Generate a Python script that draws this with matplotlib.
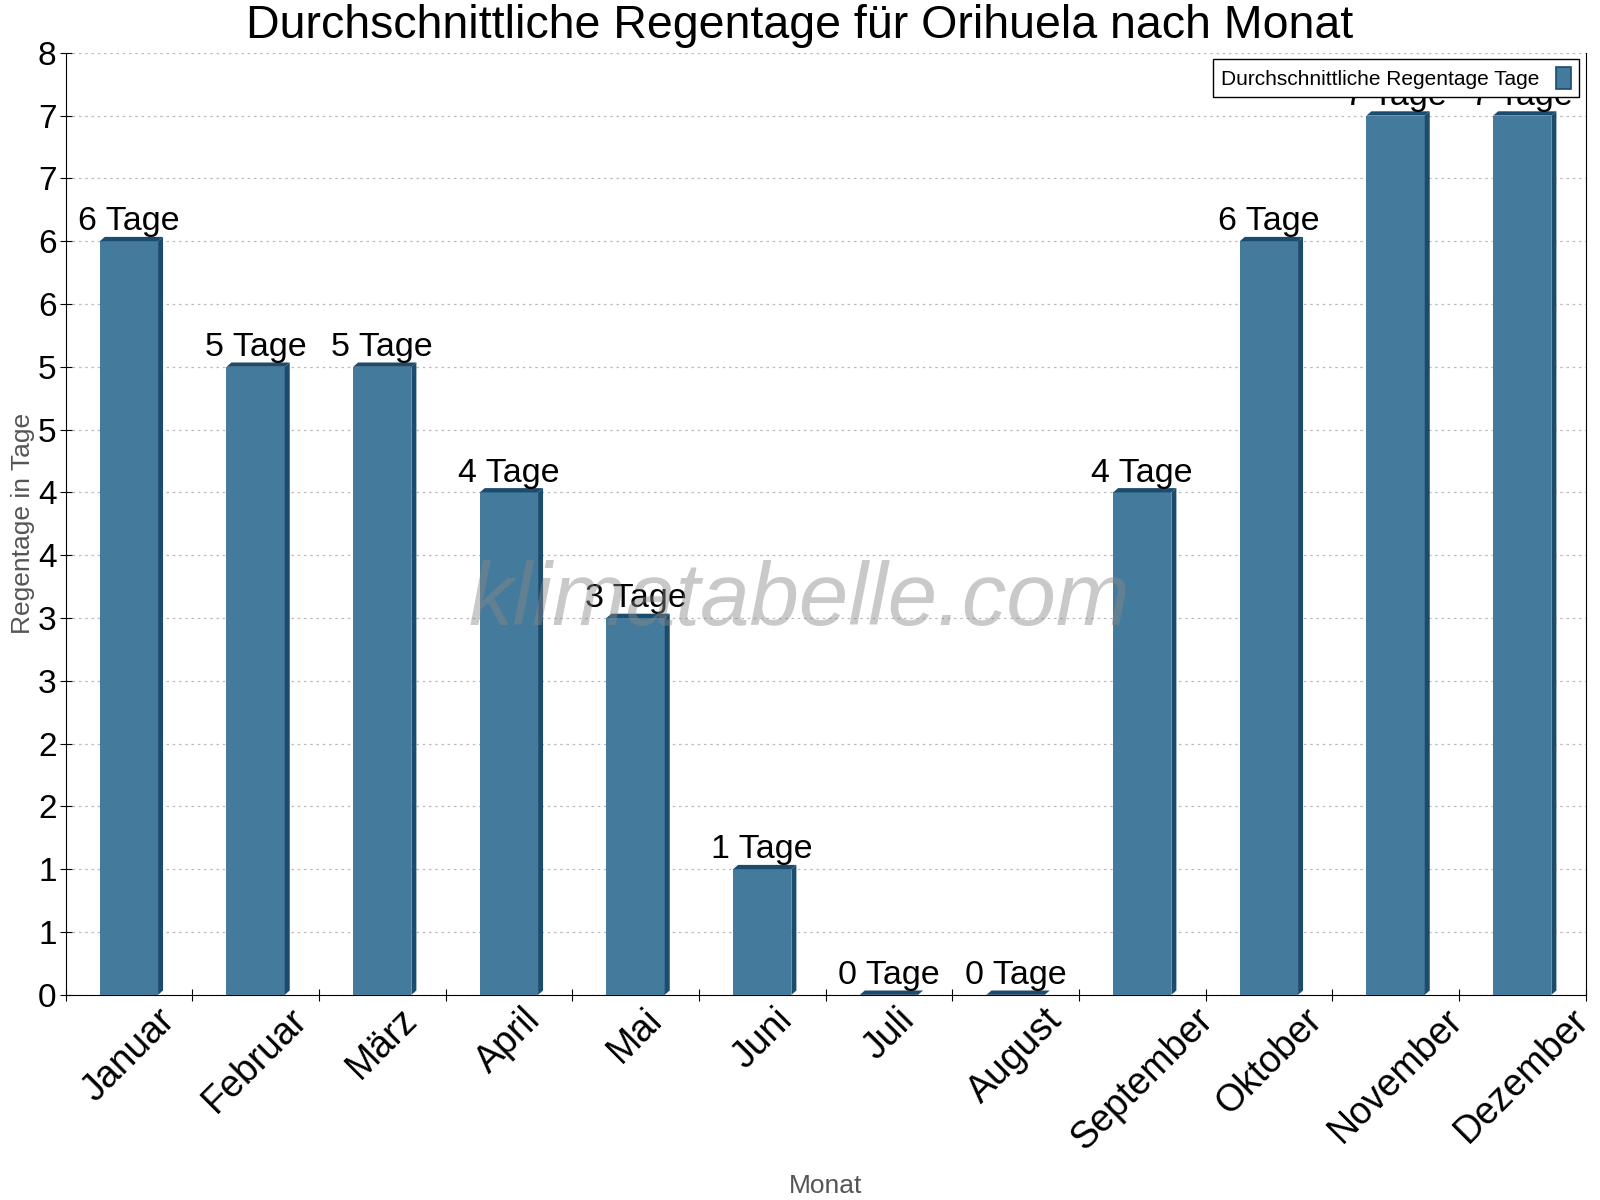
import numpy as np
import matplotlib.pyplot as plt
from matplotlib.patches import Polygon, Patch
from matplotlib.ticker import FuncFormatter, MultipleLocator

plt.rcParams["font.family"] = ["Liberation Sans", "DejaVu Sans"]

months = ["Januar", "Februar", "März", "April", "Mai", "Juni", "Juli",
          "August", "September", "Oktober", "November", "Dezember"]
rain_days = [6, 5, 5, 4, 3, 1, 0, 0, 4, 6, 7, 7]
unit = "Tage"

FRONT = "#447a9c"
DARK = "#1b4b6d"

fig = plt.figure(figsize=(16, 12), dpi=100)
ax = fig.add_axes([0.041, 0.171, 0.95, 0.785])

x = np.arange(len(months))
width = 0.46
ymax = 7.5
ax.set_xlim(-0.5, len(months) - 0.5)
ax.set_ylim(0, ymax)

# fake 3d depth (pixels -> data units)
dx = 5.0 * (len(months) / 1520)
dy = 4.3 * (ymax / 942)

ax.bar(x, rain_days, width=width, color=FRONT, zorder=3)
for xi, v in zip(x, rain_days):
    x0, x1 = xi - width / 2, xi + width / 2
    side = Polygon([(x1, 0), (x1 + dx, dy), (x1 + dx, v + dy), (x1, v)],
                   closed=True, color=DARK, zorder=3, lw=0)
    top = Polygon([(x0, v), (x0 + dx, v + dy), (x1 + dx, v + dy), (x1, v)],
                  closed=True, color=DARK, zorder=3, lw=0)
    ax.add_patch(side)
    ax.add_patch(top)
    ax.text(xi, v + 0.03, f"{v} {unit}", ha="center", va="bottom",
            fontsize=24.5, zorder=5)

# ticks: boundaries as major, labels on minor
ax.set_xticks(np.arange(-0.5, len(months), 1.0))
ax.set_xticklabels([])
ax.set_xticks(x, minor=True)
ax.set_xticklabels(months, minor=True, rotation=45, ha="center", va="top",
                   fontsize=27)
ax.tick_params(axis="x", which="minor", length=0, pad=5)
ax.tick_params(axis="x", which="major", direction="inout", length=9)

ax.yaxis.set_major_locator(MultipleLocator(0.5))
ax.yaxis.set_major_formatter(FuncFormatter(lambda v, p: f"{int(np.floor(v + 0.5))}"))
ax.tick_params(axis="y", direction="inout", length=9, labelsize=24, pad=2)

ax.yaxis.grid(True, linestyle=(0, (2, 3)), color="#bbbbbb", linewidth=0.9, zorder=0)
ax.set_axisbelow(True)
ax.spines["top"].set_visible(False)

ax.set_ylabel("Regentage in Tage", fontsize=19, color="#555555", labelpad=2)
ax.set_xlabel("Monat", fontsize=19, color="#555555")
ax.xaxis.set_label_coords(0.5, -0.19)
fig.suptitle("Durchschnittliche Regentage für Orihuela nach Monat",
             fontsize=33.5, x=0.5, y=0.997, va="top")

ax.text(0.483, 0.417, "klimatabelle.com", transform=ax.transAxes,
        ha="center", va="center", fontsize=64, style="italic",
        color="#888888", alpha=0.45, zorder=6)

handle = Patch(facecolor=FRONT, edgecolor=DARK, linewidth=1.2)
ax.legend([handle], [f"Durchschnittliche Regentage {unit}"], loc="upper right",
          markerfirst=False, fontsize=15, fancybox=False, framealpha=1,
          edgecolor="black", borderaxespad=0.3, handlelength=0.7,
          handleheight=1.2)

fig.savefig("out.png", dpi=100)
